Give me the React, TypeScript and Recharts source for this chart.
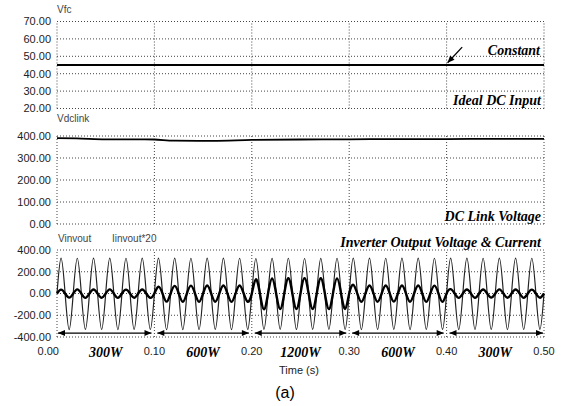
import { LineChart, Line, XAxis, YAxis, CartesianGrid, ReferenceLine } from "recharts";

// time axis
const timeTicks = [0, 0.1, 0.2, 0.3, 0.4, 0.5];
const loadMidpoints = [0.05, 0.15, 0.25, 0.35, 0.45];
const loadLabels = ["300W", "600W", "1200W", "600W", "300W"];

// y ticks for each panel
const fcTicks = [20, 30, 40, 50, 60, 70];
const dcTicks = [0, 100, 200, 300, 400];
const invTicks = [-400, -200, 0, 200, 400];

// Vfc: ideal dc input
const vfcTimes = [0, 0.5];
const vfcValues = [45, 45];

// Vdclink
const dcLinkTimes = [0, 0.02, 0.05, 0.09, 0.1, 0.12, 0.16, 0.2, 0.25, 0.3, 0.35, 0.4, 0.45, 0.5];
const dcLinkValues = [390, 389, 385, 385, 384, 379, 378, 382, 384, 385, 386, 386, 387, 387];

// Vinvout / Iinvout*20, peak and trough of each 60 Hz cycle (30 cycles)
const vPeaks = [326, 324, 326, 325, 324, 326, 325, 326, 324, 325, 326, 324, 322, 323, 324, 322, 323, 324, 325, 326, 324, 325, 326, 324, 326, 325, 324, 326, 325, 324];
const vTroughs = [-332, -330, -331, -332, -330, -331, -333, -332, -331, -330, -332, -331, -330, -329, -331, -330, -329, -331, -332, -331, -330, -332, -331, -330, -332, -331, -330, -332, -331, -330];
const iPeaks = [36, 38, 37, 38, 36, 37, 62, 70, 72, 74, 73, 74, 130, 138, 140, 141, 140, 139, 80, 74, 73, 74, 73, 72, 40, 37, 37, 38, 37, 36];
const iTroughs = [-38, -40, -39, -40, -39, -40, -75, -76, -77, -76, -77, -76, -145, -142, -143, -142, -143, -142, -76, -76, -75, -76, -77, -76, -40, -39, -38, -39, -40, -39];

// load-step arrows along the bottom of the inverter panel
const arrowLevel = -364;
const arrowSegments = [
  [0.001, 0.097],
  [0.103, 0.197],
  [0.203, 0.297],
  [0.303, 0.397],
  [0.403, 0.499],
];

const fcData = vfcTimes.map((t, i) => ({ t, v: vfcValues[i] }));
const dcData = dcLinkTimes.map((t, i) => ({ t, v: dcLinkValues[i] }));
const invData: { t: number; v: number; i: number }[] = [];
vPeaks.forEach((vp, k) => {
  const t0 = k / 60;
  invData.push({ t: t0, v: 0, i: 0 });
  invData.push({ t: t0 + 1 / 240, v: vp, i: iPeaks[k] });
  invData.push({ t: t0 + 2 / 240, v: 0, i: 0 });
  invData.push({ t: t0 + 3 / 240, v: vTroughs[k], i: iTroughs[k] });
});
invData.push({ t: 0.5, v: 0, i: 0 });

const bottomTicks = [...timeTicks, ...loadMidpoints].sort((a, b) => a - b);

const gridStroke = "#444";
const gridDash = "1 2";
const sans = "'Liberation Sans', Arial, sans-serif";
const serif = "'Liberation Serif', 'Times New Roman', serif";
const tickStyle = { fontSize: 11, fill: "#222", fontFamily: sans };
const margin = (top: number, bottom: number) => ({ top, right: 20, bottom, left: 0 });

function head(x: number, y: number, dx: number, dy: number) {
  const len = Math.hypot(dx, dy) || 1;
  const ux = dx / len;
  const uy = dy / len;
  const bx = x - ux * 7;
  const by = y - uy * 7;
  return `${x},${y} ${bx - uy * 3},${by + ux * 3} ${bx + uy * 3},${by - ux * 3}`;
}

function ArrowShape(props: any) {
  const { x1, y1, x2, y2, both } = props;
  return (
    <g>
      <line x1={x1} y1={y1} x2={x2} y2={y2} stroke="#000" strokeWidth={1.3} />
      <polygon points={head(x2, y2, x2 - x1, y2 - y1)} fill="#000" />
      {both && <polygon points={head(x1, y1, x1 - x2, y1 - y2)} fill="#000" />}
    </g>
  );
}

function BottomTick(props: any) {
  const { x, y, payload } = props;
  const idx = loadMidpoints.indexOf(payload.value);
  if (idx >= 0) {
    return (
      <text x={x} y={y} dy="0.71em" textAnchor="middle" fontFamily={serif} fontWeight="bold" fontStyle="italic" fontSize={14} fill="#000">
        {loadLabels[idx]}
      </text>
    );
  }
  return (
    <text x={x} y={y} dy="0.71em" textAnchor={payload.value === 0 ? "end" : "middle"} dx={payload.value === 0 ? 2 : 0} fontFamily={sans} fontSize={11} fill="#222">
      {payload.value.toFixed(2)}
    </text>
  );
}

function vGridLines() {
  return timeTicks.map((t) => (
    <ReferenceLine key={t} x={t} stroke={gridStroke} strokeDasharray={gridDash} />
  ));
}

function yAxisProps(domain: number[], ticks: number[]) {
  return {
    domain,
    ticks,
    type: "number" as const,
    width: 57,
    interval: 0,
    axisLine: false,
    tickLine: false,
    tickSize: 4,
    tickMargin: 2,
    tick: tickStyle,
    tickFormatter: (v: number) => v.toFixed(2),
  };
}

export default function App() {
  const boldItalic = { fontFamily: serif, fontWeight: "bold" as const, fontStyle: "italic" as const, fontSize: 14, fill: "#000" };
  return (
    <div style={{ position: "absolute", left: 0, top: 0, width: 564, height: 406, background: "#fff" }}>
      <div style={{ position: "absolute", left: 0, top: 0 }}>
        <LineChart width={564} height={120} data={fcData} margin={margin(21.5, 11.5)}>
          <CartesianGrid vertical={false} stroke={gridStroke} strokeDasharray={gridDash} />
          <XAxis dataKey="t" type="number" domain={[0, 0.5]} hide />
          <YAxis {...yAxisProps([20, 70], fcTicks)} />
          {vGridLines()}
          <Line dataKey="v" stroke="#000" strokeWidth={2} dot={false} isAnimationActive={false} />
          <ReferenceLine
            segment={[{ x: 0.416, y: 55.3 }, { x: 0.401, y: 46.3 }]}
            ifOverflow="visible"
            shape={(p: any) => <ArrowShape {...p} />}
          />
        </LineChart>
      </div>
      <div style={{ position: "absolute", left: 0, top: 112 }}>
        <LineChart width={564} height={125} data={dcData} margin={margin(24, 13)}>
          <CartesianGrid vertical={false} stroke={gridStroke} strokeDasharray={gridDash} />
          <XAxis dataKey="t" type="number" domain={[0, 0.5]} hide />
          <YAxis {...yAxisProps([0, 400], dcTicks)} />
          {vGridLines()}
          <Line dataKey="v" type="monotone" stroke="#000" strokeWidth={1.8} dot={false} isAnimationActive={false} />
        </LineChart>
      </div>
      <div style={{ position: "absolute", left: 0, top: 226 }}>
        <LineChart width={564} height={140} data={invData} margin={margin(24, 9)}>
          <CartesianGrid vertical={false} stroke={gridStroke} strokeDasharray={gridDash} />
          <XAxis
            dataKey="t"
            type="number"
            domain={[0, 0.5]}
            ticks={bottomTicks}
            interval={0}
            height={20}
            axisLine={false}
            tickLine={false}
            tickSize={8}
            tickMargin={2}
            tick={<BottomTick />}
          />
          <YAxis {...yAxisProps([-400, 400], invTicks)} />
          {vGridLines()}
          <Line dataKey="v" type="natural" stroke="#222" strokeWidth={1.2} dot={false} isAnimationActive={false} />
          <Line dataKey="i" type="natural" stroke="#000" strokeWidth={2.4} dot={false} isAnimationActive={false} />
          {arrowSegments.map(([a, b]) => (
            <ReferenceLine
              key={a}
              segment={[{ x: a, y: arrowLevel }, { x: b, y: arrowLevel }]}
              ifOverflow="visible"
              shape={(p: any) => <ArrowShape {...p} both />}
            />
          ))}
        </LineChart>
      </div>
      <svg width={564} height={406} style={{ position: "absolute", left: 0, top: 0, pointerEvents: "none" }}>
        <text x={57} y={13} fontFamily={sans} fontSize={10} fill="#444">Vfc</text>
        <text x={57} y={122} fontFamily={sans} fontSize={10} fill="#444">Vdclink</text>
        <text x={58} y={242} fontFamily={sans} fontSize={10} fill="#444">Vinvout</text>
        <text x={112} y={242} fontFamily={sans} fontSize={10} fill="#444">Iinvout*20</text>
        <text x={540} y={55} textAnchor="end" {...boldItalic}>Constant</text>
        <text x={541} y={105} textAnchor="end" {...boldItalic}>Ideal DC Input</text>
        <text x={541} y={221} textAnchor="end" {...boldItalic}>DC Link Voltage</text>
        <text x={541} y={247} textAnchor="end" {...boldItalic}>Inverter Output Voltage &amp; Current</text>
        <text x={299} y={374} textAnchor="middle" fontFamily={sans} fontSize={11} fill="#222">Time (s)</text>
        <text x={285} y={398} textAnchor="middle" fontFamily={sans} fontSize={16} fill="#000">(a)</text>
      </svg>
    </div>
  );
}
